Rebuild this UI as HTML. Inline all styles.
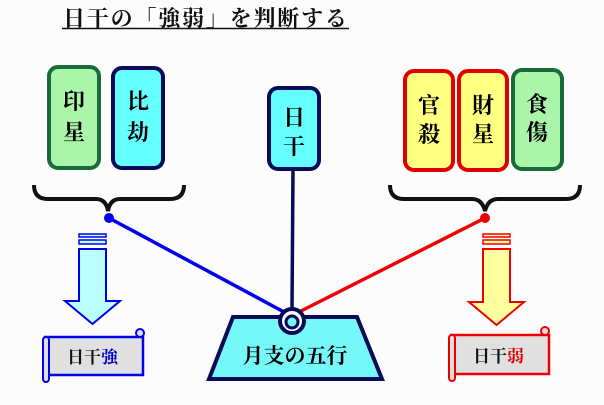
<!DOCTYPE html>
<html><head><meta charset="utf-8"><style>
body{margin:0;background:#fcfcfd;}
svg{display:block;}
text{font-family:"Liberation Serif","Noto Serif CJK SC",serif;}
.b{font-weight:bold;}
</style></head><body>
<svg width="604" height="405" viewBox="0 0 604 405" xmlns="http://www.w3.org/2000/svg">
<rect width="604" height="405" fill="#fcfcfd"/>
<text x="63" y="26" font-size="22" font-weight="bold" fill="#111" textLength="284">日干の「強弱」を判断する</text>
<line x1="62" y1="28.5" x2="349" y2="28.5" stroke="#111" stroke-width="1.5"/>
<g class="b">
<rect x="49" y="67" width="50" height="101" rx="9" fill="#aaf5aa" stroke="#1a6b3a" stroke-width="4"/>
<text x="74" y="109" font-size="22" text-anchor="middle">印</text><text x="74" y="140" font-size="22" text-anchor="middle">星</text>
<rect x="113" y="68" width="50" height="100" rx="9" fill="#66ffff" stroke="#0a0a5a" stroke-width="4"/>
<text x="138" y="109" font-size="22" text-anchor="middle">比</text><text x="138" y="140" font-size="22" text-anchor="middle">劫</text>
<rect x="269" y="88" width="50" height="81" rx="9" fill="#66ffff" stroke="#0a0a5a" stroke-width="4"/>
<text x="294" y="125" font-size="22" text-anchor="middle">日</text><text x="294" y="154" font-size="22" text-anchor="middle">干</text>
<rect x="405" y="71" width="48" height="99" rx="9" fill="#ffff80" stroke="#e00000" stroke-width="4"/>
<text x="429" y="113" font-size="22" text-anchor="middle">官</text><text x="429" y="142" font-size="22" text-anchor="middle">殺</text>
<rect x="459" y="71" width="48" height="99" rx="9" fill="#ffff80" stroke="#e00000" stroke-width="4"/>
<text x="483" y="113" font-size="22" text-anchor="middle">財</text><text x="483" y="142" font-size="22" text-anchor="middle">星</text>
<rect x="513" y="70" width="49" height="99" rx="9" fill="#aaf5aa" stroke="#1a6b3a" stroke-width="4"/>
<text x="537" y="112" font-size="22" text-anchor="middle">食</text><text x="537" y="140" font-size="22" text-anchor="middle">傷</text>
</g>
<path d="M34 185 Q34 199 48 199 L96 199 Q106 199 108 211 Q110 199 120 199 L170 199 Q184 199 184 185" fill="none" stroke="#111" stroke-width="4"/>
<path d="M390 185 Q390 199 404 199 L472 199 Q482 199 485 211 Q488 199 498 199 L566 199 Q580 199 580 185" fill="none" stroke="#111" stroke-width="4"/>
<line x1="293" y1="169" x2="292" y2="310" stroke="#0a0a5a" stroke-width="3.5"/>
<line x1="109" y1="218" x2="284" y2="312" stroke="#0000ee" stroke-width="3.5"/>
<line x1="485" y1="218" x2="301" y2="311" stroke="#ee0000" stroke-width="3.5"/>
<circle cx="109" cy="218" r="5" fill="#0000ee"/>
<circle cx="485" cy="218" r="5" fill="#ee0000"/>
<polygon points="233,317 357,317 382,379 209,379" fill="#77f8f8" stroke="#0a0a5a" stroke-width="4"/>
<circle cx="292" cy="321" r="12" fill="#fff" stroke="#0a0a5a" stroke-width="4"/>
<circle cx="292" cy="322" r="6" fill="#77f8f8" stroke="#0a0a5a" stroke-width="3"/>
<text x="295" y="363" font-size="21" text-anchor="middle" class="b">月支の五行</text>
<rect x="79" y="234" width="27" height="3" fill="#bff" stroke="#0000ee" stroke-width="1.5"/>
<rect x="79" y="240" width="27" height="4" fill="#bff" stroke="#0000ee" stroke-width="1.5"/>
<path d="M79 249 L106 249 L106 301 L120 301 L92.5 324 L65 301 L79 301 Z" fill="#bff" stroke="#0000ee" stroke-width="2"/>
<rect x="45" y="337" width="98" height="38" fill="#e0e0e0" stroke="#0000ee" stroke-width="2.5"/>
<rect x="43" y="337" width="6" height="45" rx="3" fill="#e0e0e0" stroke="#0000ee" stroke-width="2"/>
<circle cx="140" cy="333" r="4" fill="#e0e0e0" stroke="#0000ee" stroke-width="2"/>
<text x="67" y="363" font-size="17" font-weight="bold" fill="#111">日干<tspan fill="#0000cc">強</tspan></text>
<rect x="483" y="234" width="27" height="3" fill="#ffffa0" stroke="#ee0000" stroke-width="1.5"/>
<rect x="483" y="240" width="27" height="4" fill="#ffffa0" stroke="#ee0000" stroke-width="1.5"/>
<path d="M483 249 L510 249 L510 302 L524 302 L496.5 325 L469 302 L483 302 Z" fill="#ffffa0" stroke="#ee0000" stroke-width="2"/>
<rect x="451" y="335" width="98" height="39" fill="#e0e0e0" stroke="#ee0000" stroke-width="2.5"/>
<rect x="449" y="335" width="6" height="46" rx="3" fill="#e0e0e0" stroke="#ee0000" stroke-width="2"/>
<circle cx="545" cy="331" r="4" fill="#e0e0e0" stroke="#ee0000" stroke-width="2"/>
<text x="473" y="362" font-size="17" font-weight="bold" fill="#111">日干<tspan fill="#dd0000">弱</tspan></text>
</svg>
</body></html>
